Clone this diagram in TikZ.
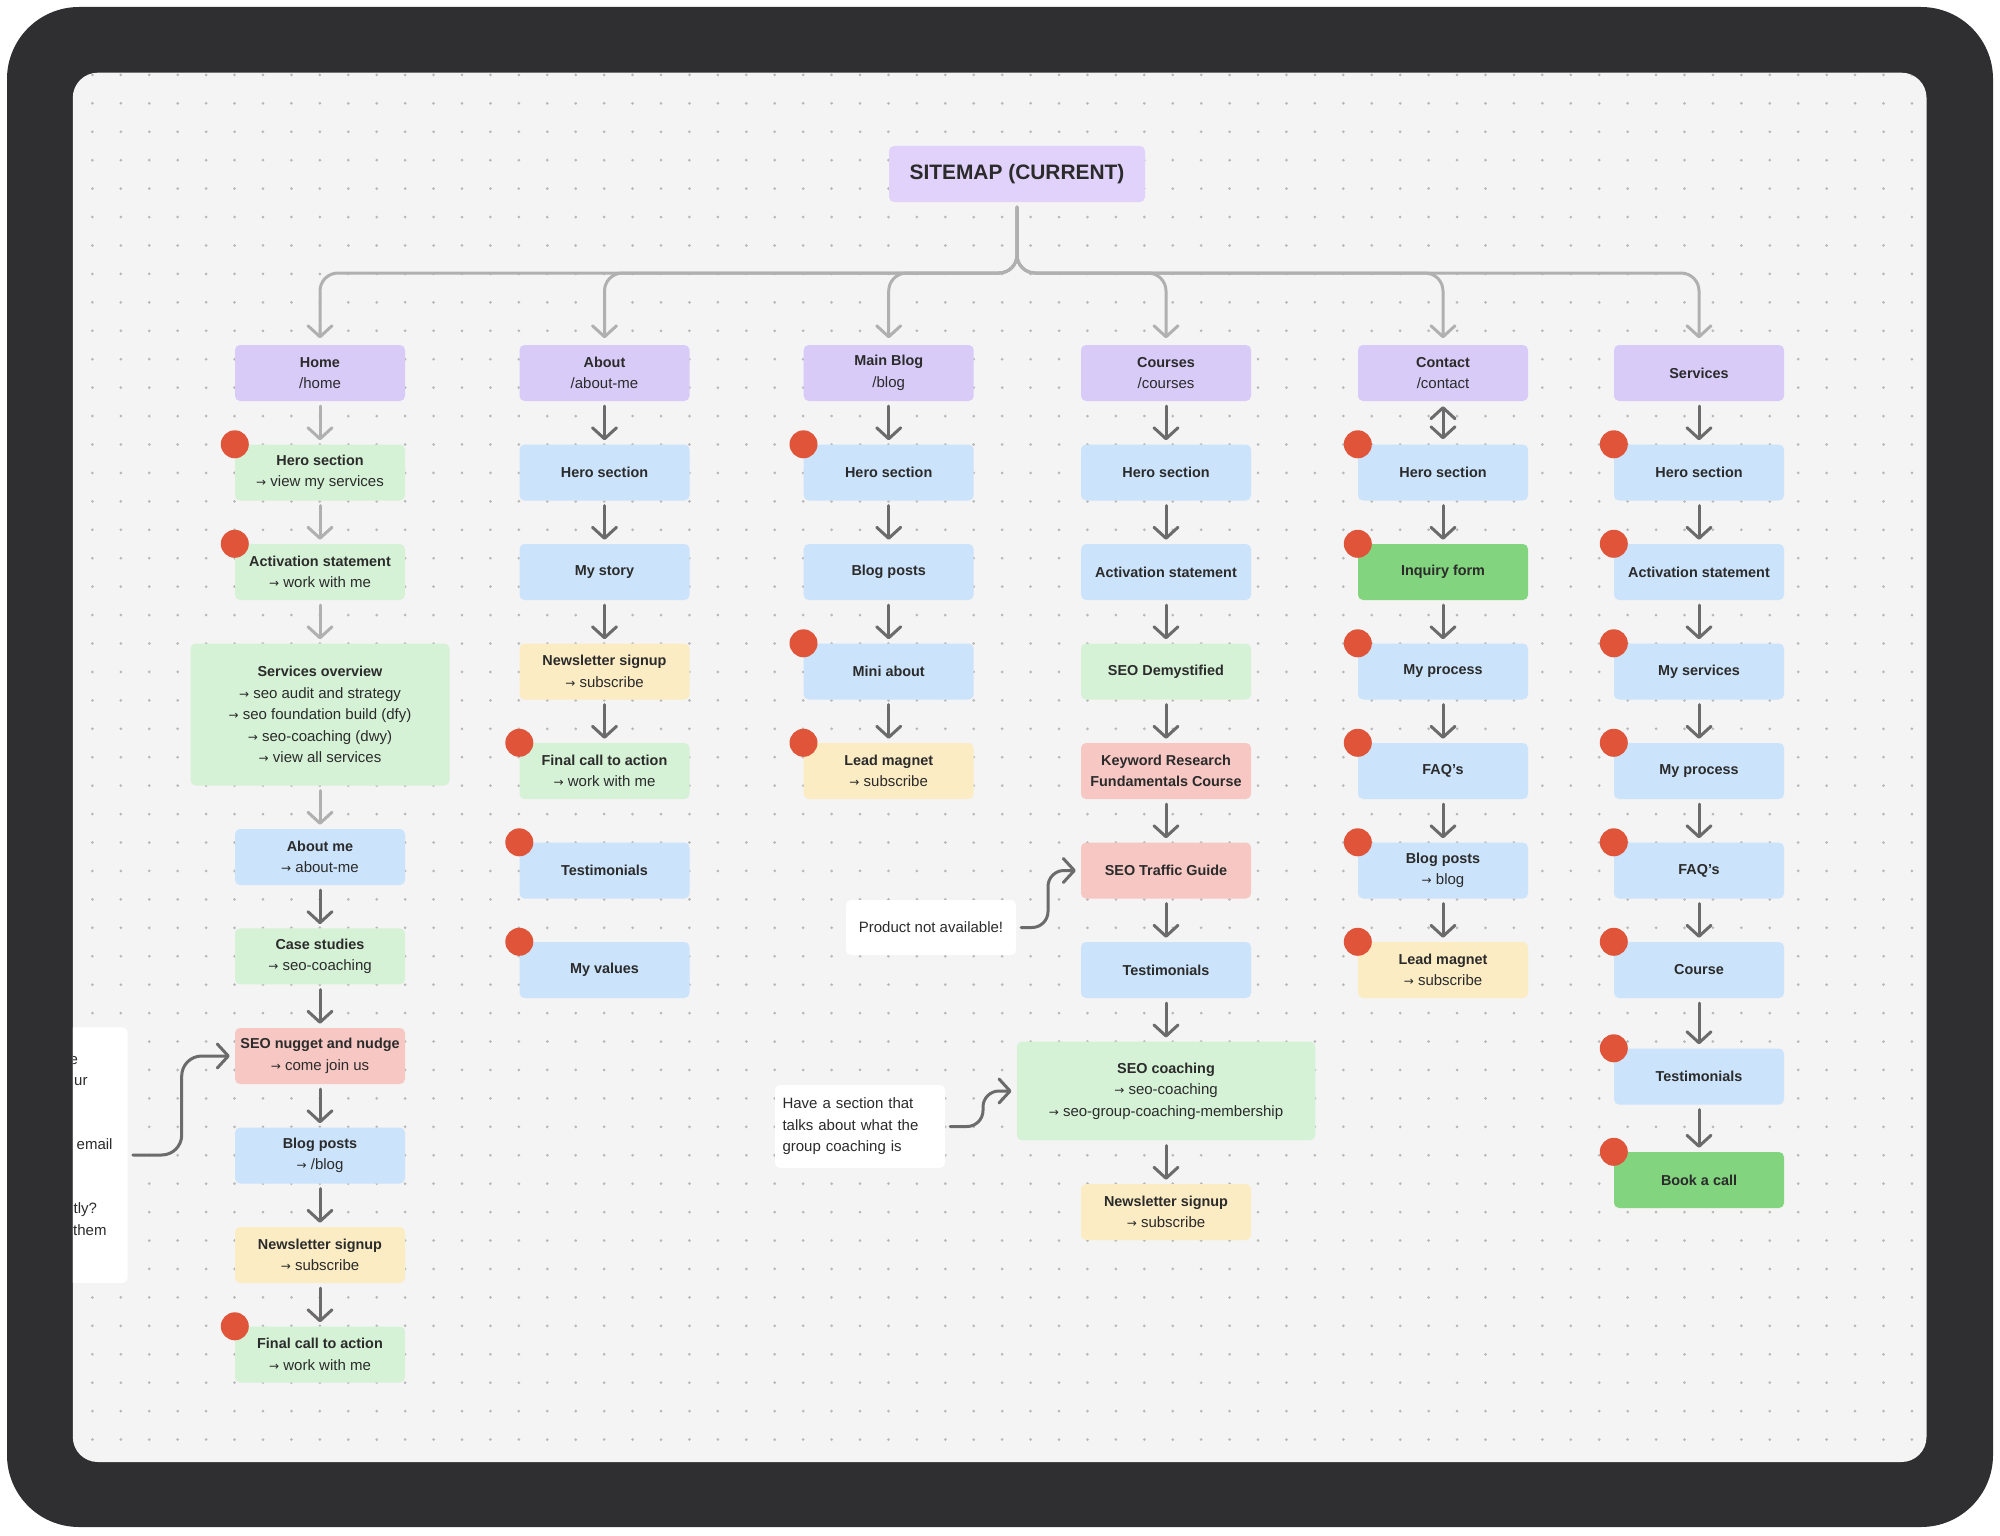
\documentclass[tikz,border=0pt]{standalone}
\usepackage{fontspec}
\setmainfont{Liberation Sans}
\newfontfamily\arrfont{DejaVu Sans}
\usetikzlibrary{arrows.meta}
\definecolor{framec}{HTML}{2F2F31}
\definecolor{canvasc}{HTML}{F4F4F4}
\definecolor{dotc}{HTML}{B8B8B8}
\definecolor{ttlc}{HTML}{E1D2FB}
\definecolor{pgc}{HTML}{D9CBF8}
\definecolor{blc}{HTML}{CBE3FB}
\definecolor{grc}{HTML}{D5F2D6}
\definecolor{yec}{HTML}{FCECC4}
\definecolor{pkc}{HTML}{F6C7C3}
\definecolor{sgc}{HTML}{83D47E}
\definecolor{rdc}{HTML}{E0553A}
\definecolor{ink}{HTML}{2B2B2B}
\definecolor{arrd}{HTML}{6B6B6B}
\definecolor{arrl}{HTML}{B0B0B0}
\newcommand\hb[1]{{\fontsize{14.4}{21.5}\selectfont\bfseries #1}}
\newcommand\myarr{{\arrfont\fontsize{12}{12}\selectfont →}}
\newcommand\reddot[1]{\fill[rdc] (#1.north west) circle (14pt);}
\begin{document}
\begin{tikzpicture}[x=1pt,y=-1pt,
  >={Straight Barb[length=11pt,width=24pt,round]},
  bx/.style={rounded corners=5pt, minimum width=170pt, minimum height=56pt, inner sep=0pt,
    align=center, text=ink, font=\fontsize{15}{21.5}\selectfont},
  pg/.style={bx, fill=pgc}, bl/.style={bx, fill=blc}, gr/.style={bx, fill=grc},
  ye/.style={bx, fill=yec}, pk/.style={bx, fill=pkc}, sg/.style={bx, fill=sgc},
  ttl/.style={rounded corners=5pt, minimum width=256pt, minimum height=56pt, inner sep=0pt,
    fill=ttlc, text=ink, font=\fontsize{20.9}{24}\selectfont\bfseries},
  notebox/.style={rounded corners=5pt, fill=white, inner sep=0pt, text=ink,
    font=\fontsize{15}{21.4}\selectfont},
  frag/.style={anchor=base west, inner sep=0pt, text=ink, font=\fontsize{15}{21.4}\selectfont},
  conn/.style={->, draw=arrd, line width=3pt, line cap=round, shorten <=5pt, shorten >=4pt},
  lconn/.style={conn, draw=arrl},
  topc/.style={->, draw=arrl, line width=3pt, rounded corners=18pt, line cap=round,
    shorten <=5pt, shorten >=6.5pt},
  curl/.style={->, draw=arrd, line width=3pt, line cap=round, rounded corners=16pt,
    shorten <=5pt, shorten >=5pt}]
\fill[white] (0,0) rectangle (2000,1536);
\fill[framec, rounded corners=72pt] (7,7) rectangle (1993,1527);
\fill[canvasc, rounded corners=25pt] (72.8,72.7) rectangle (1926.5,1462);
\begin{scope}
\clip[rounded corners=25pt] (72.8,72.7) rectangle (1926.5,1462);
\foreach \j in {0,...,48}{
  \fill[dotc] \foreach \i in {0,...,64}{(92.4+28.43*\i,74.9+28.43*\j) circle (1.5pt)};
}

\coordinate (bar) at (0,273);
\node[ttl] (title) at (1017,174) {SITEMAP (CURRENT)};

% page nodes
\node[pg] (home) at (320,373) {\hb{Home}\\/home};
\node[pg] (about) at (604.5,373) {\hb{About}\\/about-me};
\node[pg] (blog) at (888.7,373) {\hb{Main Blog}\\/blog};
\node[pg] (courses) at (1166,373) {\hb{Courses}\\/courses};
\node[pg] (contact) at (1443,373) {\hb{Contact}\\/contact};
\node[pg] (services) at (1699,373) {\hb{Services}};

% Home column
\node[gr] (h1) at (320,472.5) {\hb{Hero section}\\\myarr\ view my services};
\node[gr] (h2) at (320,572) {\hb{Activation statement}\\\myarr\ work with me};
\node[gr, minimum width=259pt, minimum height=142pt] (h3) at (320,714.5) {\hb{Services overview}\\\myarr\ seo audit and strategy\\\myarr\ seo foundation build (dfy)\\\myarr\ seo-coaching (dwy)\\\myarr\ view all services};
\node[bl] (h4) at (320,857) {\hb{About me}\\\myarr\ about-me};
\node[gr] (h5) at (320,956.4) {\hb{Case studies}\\\myarr\ seo-coaching};
\node[pk] (h6) at (320,1056) {\hb{SEO nugget and nudge}\\\myarr\ come join us};
\node[bl] (h7) at (320,1155.5) {\hb{Blog posts}\\\myarr\ /blog};
\node[ye] (h8) at (320,1255) {\hb{Newsletter signup}\\\myarr\ subscribe};
\node[gr] (h9) at (320,1354.5) {\hb{Final call to action}\\\myarr\ work with me};

% About column
\node[bl] (a1) at (604.5,472.5) {\hb{Hero section}};
\node[bl] (a2) at (604.5,572) {\hb{My story}};
\node[ye] (a3) at (604.5,671.5) {\hb{Newsletter signup}\\\myarr\ subscribe};
\node[gr] (a4) at (604.5,771) {\hb{Final call to action}\\\myarr\ work with me};
\node[bl] (a5) at (604.5,870.5) {\hb{Testimonials}};
\node[bl] (a6) at (604.5,970) {\hb{My values}};

% Main Blog column
\node[bl] (b1) at (888.7,472.5) {\hb{Hero section}};
\node[bl] (b2) at (888.7,572) {\hb{Blog posts}};
\node[bl] (b3) at (888.7,671.5) {\hb{Mini about}};
\node[ye] (b4) at (888.7,771) {\hb{Lead magnet}\\\myarr\ subscribe};

% Courses column
\node[bl] (k1) at (1166,472.5) {\hb{Hero section}};
\node[bl] (k2) at (1166,572) {\hb{Activation statement}};
\node[gr] (k3) at (1166,671.5) {\hb{SEO Demystified}};
\node[pk] (k4) at (1166,771) {\hb{Keyword Research}\\\hb{Fundamentals Course}};
\node[pk] (k5) at (1166,870.5) {\hb{SEO Traffic Guide}};
\node[bl] (k6) at (1166,970) {\hb{Testimonials}};
\node[gr, minimum width=298.5pt, minimum height=98.6pt] (k7) at (1166,1091) {\hb{SEO coaching}\\\myarr\ seo-coaching\\\myarr\ seo-group-coaching-membership};
\node[ye] (k8) at (1166,1212) {\hb{Newsletter signup}\\\myarr\ subscribe};

% Contact column
\node[bl] (t1) at (1443,472.5) {\hb{Hero section}};
\node[sg] (t2) at (1443,572) {\hb{Inquiry form}};
\node[bl] (t3) at (1443,671.5) {\hb{My process}};
\node[bl] (t4) at (1443,771) {\hb{FAQ’s}};
\node[bl] (t5) at (1443,870.5) {\hb{Blog posts}\\\myarr\ blog};
\node[ye] (t6) at (1443,970) {\hb{Lead magnet}\\\myarr\ subscribe};

% Services column
\node[bl] (s1) at (1699,472.5) {\hb{Hero section}};
\node[bl] (s2) at (1699,572) {\hb{Activation statement}};
\node[bl] (s3) at (1699,671.5) {\hb{My services}};
\node[bl] (s4) at (1699,771) {\hb{My process}};
\node[bl] (s5) at (1699,870.5) {\hb{FAQ’s}};
\node[bl] (s6) at (1699,970) {\hb{Course}};
\node[bl] (s7) at (1699,1076.5) {\hb{Testimonials}};
\node[sg] (s8) at (1699,1180) {\hb{Book a call}};

% notes
\node[notebox, minimum width=170pt, minimum height=55pt] (n1) at (931,927.5) {Product not available!};
\node[notebox, minimum width=170pt, minimum height=83pt, text width=155pt, align=left] (n2) at (860,1126.5) {Have a section that\\talks about what the\\group coaching is};
\node[notebox, minimum width=100pt, minimum height=255.5pt] (nl) at (77.7,1155) {};
\node[frag] (f1) at (69.5,1064) {e};
\node[frag] (f2) at (74,1085.4) {ur};
\node[frag] (f3) at (76.5,1149.6) {email};
\node[frag] (f4) at (73.5,1213.8) {tly?};
\node[frag] (f5) at (73,1235.2) {them};

% red dots
\foreach \n in {h1,h2,h9,a4,a5,a6,b1,b3,b4,t1,t2,t3,t4,t5,t6,s1,s2,s3,s4,s5,s6,s7,s8}{\reddot{\n}}

% top-level connectors
\foreach \c in {home,about,blog,courses,contact,services}{
  \draw[topc] (title.south) -- (title.south |- bar) -- (\c.north |- bar) -- (\c.north);
}

% Home column connectors
\draw[lconn] (home) -- (h1);
\draw[lconn] (h1) -- (h2);
\draw[lconn] (h2) -- (h3);
\draw[lconn] (h3) -- (h4);
\draw[conn] (h4) -- (h5);
\draw[conn] (h5) -- (h6);
\draw[conn] (h6) -- (h7);
\draw[conn] (h7) -- (h8);
\draw[conn] (h8) -- (h9);

% About
\draw[conn] (about) -- (a1);
\draw[conn] (a1) -- (a2);
\draw[conn] (a2) -- (a3);
\draw[conn] (a3) -- (a4);

% Blog
\draw[conn] (blog) -- (b1);
\draw[conn] (b1) -- (b2);
\draw[conn] (b2) -- (b3);
\draw[conn] (b3) -- (b4);

% Courses
\draw[conn] (courses) -- (k1);
\draw[conn] (k1) -- (k2);
\draw[conn] (k2) -- (k3);
\draw[conn] (k3) -- (k4);
\draw[conn] (k4) -- (k5);
\draw[conn] (k5) -- (k6);
\draw[conn] (k6) -- (k7);
\draw[conn] (k7) -- (k8);

% Contact
\draw[conn, <->, shorten <=5pt, shorten >=5pt] (contact) -- (t1);
\draw[conn] (t1) -- (t2);
\draw[conn] (t2) -- (t3);
\draw[conn] (t3) -- (t4);
\draw[conn] (t4) -- (t5);
\draw[conn] (t5) -- (t6);

% Services
\draw[conn] (services) -- (s1);
\draw[conn] (s1) -- (s2);
\draw[conn] (s2) -- (s3);
\draw[conn] (s3) -- (s4);
\draw[conn] (s4) -- (s5);
\draw[conn] (s5) -- (s6);
\draw[conn] (s6) -- (s7);
\draw[conn] (s7) -- (s8);

% note connectors
\draw[curl, rounded corners=20pt] (nl.east) -- (181.7,1155) -- (181.7,1056) -- (h6.west);
\draw[curl] (n1.east) -- (1048,927.5) -- (1048,870.5) -- (k5.west);
\draw[curl] (n2.east) -- (983,1126.5) -- (983,1091) -- (k7.west);
\end{scope}
\end{tikzpicture}
\end{document}
